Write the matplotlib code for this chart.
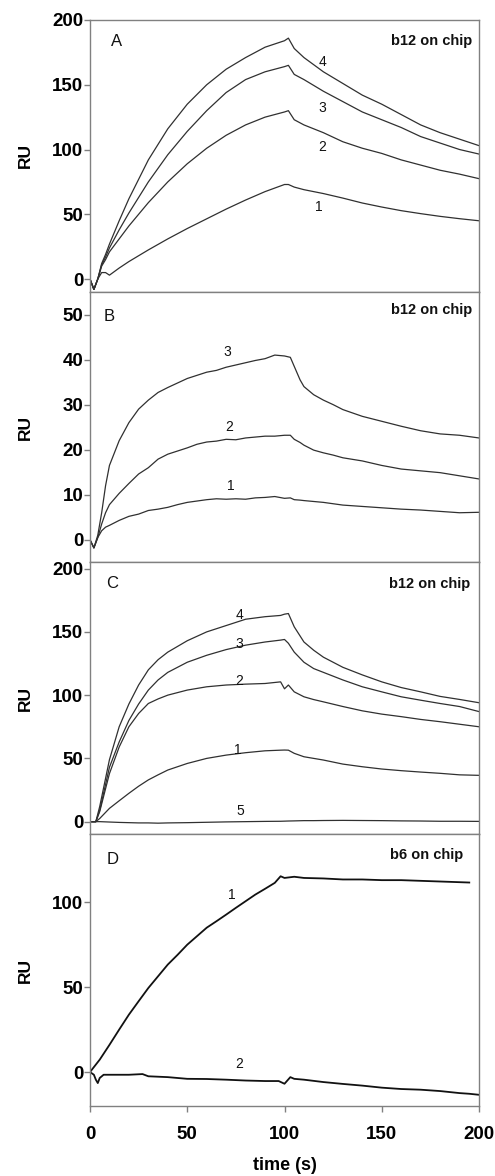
import matplotlib
matplotlib.use("Agg")
import matplotlib.pyplot as plt

plt.rcParams['font.family'] = ['Liberation Sans', 'DejaVu Sans']

# ---------------- data ----------------
A_time = [0, 2, 4, 6, 8, 10, 15, 20, 30, 40, 50, 60, 70, 80, 90, 100, 102, 105, 110,
          120, 130, 140, 150, 160, 170, 180, 190, 200]
A_curve4 = [0, -8, 0, 12, 19, 27, 45, 62, 92, 116, 135, 150, 162, 171, 179, 184, 186, 178, 171,
            160, 151, 142, 135, 127, 119, 113, 108, 103]
A_curve3 = [0, -8, 0, 11, 17, 24, 38, 51, 75, 96, 114, 130, 144, 154, 160, 164, 165, 158, 154,
            145, 137, 129, 123, 117, 110, 105, 100, 96.5]
A_curve2 = [0, -8, 0, 10, 15, 21, 31, 41, 59, 75, 89, 101, 111, 119, 125, 129, 130, 123, 119,
            113, 106, 101, 97, 92, 88, 84, 81, 77.5]
A_curve1 = [0, -8, 0, 5, 5, 3, 8.5, 13.5, 22.5, 31, 39, 46.5, 54, 61, 67.5, 73, 73, 71, 69,
            66, 62.5, 58.7, 55.6, 52.8, 50.5, 48.4, 46.6, 45]

B_time = [0, 2, 4, 6, 8, 10, 15, 20, 25, 30, 35, 40, 45, 50, 55, 60, 65, 70, 75, 80, 85, 90, 95,
          100, 103, 105, 108, 110, 115, 120, 125, 130, 140, 150, 160, 170, 180, 190, 200]
B_curve3 = [0, -1.8, 1, 6, 12, 16.5, 22, 26, 29, 31, 32.7, 33.8, 34.8, 35.8, 36.5, 37.2,
            37.6, 38.3, 38.8, 39.3, 39.8, 40.2, 41, 40.8, 40.5, 38.5, 35.5, 34,
            32.2, 31, 30, 28.9, 27.4, 26.3, 25.2, 24.2, 23.5, 23.2, 22.6]
B_curve2 = [0, -1.8, 0.5, 3.5, 6, 7.8, 10.3, 12.5, 14.6, 16, 17.9, 19, 19.7, 20.4, 21.2, 21.7,
            21.9, 22.3, 22.2, 22.6, 22.8, 23, 23, 23.2, 23.2, 22.3, 21.6, 21,
            19.9, 19.3, 18.8, 18.2, 17.5, 16.5, 15.7, 15.3, 14.9, 14.2, 13.5]
B_curve1 = [0, -1.8, 0.5, 2, 2.8, 3.2, 4.3, 5.2, 5.7, 6.5, 6.8, 7.2, 7.8, 8.3, 8.6, 8.9,
            9.1, 9, 9.1, 9, 9.3, 9.4, 9.6, 9.2, 9.3, 8.9, 8.8, 8.7,
            8.5, 8.3, 8.0, 7.7, 7.4, 7.1, 6.8, 6.6, 6.3, 6.0, 6.1]

C_time = [0, 3, 5, 10, 15, 20, 25, 30, 35, 40, 50, 60, 70, 80, 90, 98, 100, 102, 105, 110,
          115, 120, 130, 140, 150, 160, 170, 180, 190, 200]
C_curve4 = [0, 0, 12, 49, 75, 93, 108, 120, 128, 134, 143, 150, 155, 160, 162, 163, 164, 164.5, 154, 142,
            135.5, 130, 122, 116, 110.5, 106, 102.6, 99, 96.6, 94]
C_curve3 = [0, 0, 9, 43, 63, 80, 93, 104, 112, 118, 126, 131.5, 136, 139.5, 142, 143.5, 144, 141, 134, 126,
            121, 118, 112, 106.6, 102.6, 98.7, 96, 93.4, 91, 87]
C_curve2 = [0, 0, 8, 38, 59, 75, 85.5, 93.4, 97, 100, 104, 106.6, 108, 108.7, 109.2, 110.5, 105, 108, 102.6, 98.7,
            96.5, 94.7, 91, 87.6, 85, 83, 80.8, 79, 77, 75]
C_curve1 = [0, 0, 2.5, 10.5, 16.5, 22.4, 28, 33, 37, 40.8, 46, 50, 52.6, 54.5, 56, 56.5, 56.6, 56.5, 54, 51.3,
            50, 48.7, 45.5, 43.4, 41.6, 40.3, 39.2, 38.2, 37, 36.6]
C_curve5 = [0, 0, 0, -0.3, -0.6, -0.8, -1, -1, -1.2, -1, -0.8, -0.5, -0.2, 0, 0.2, 0.3, 0.4, 0.5, 0.6, 0.8,
            0.8, 0.9, 1, 0.9, 0.8, 0.6, 0.5, 0.3, 0.3, 0.2]

D_time1 = [0, 5, 10, 15, 20, 25, 30, 35, 40, 45, 50, 55, 60, 65, 70, 75, 80, 85, 90, 95, 98, 100,
           105, 110, 120, 130, 140, 150, 160, 170, 180, 190, 195]
D_curve1 = [0, 7.3, 16, 25, 33.8, 41.7, 49.5, 56.4, 63.3, 69, 75, 80, 85, 88.8, 92.7, 96.7, 100.6,
            104.5, 107.9, 111.4, 115.3, 114.3, 115, 114.3, 114, 113.4, 113.4, 113, 113, 112.6,
            112.2, 111.8, 111.6]
D_time2 = [0, 2, 3, 4, 5, 7, 10, 20, 27, 30, 40, 50, 60, 70, 80, 90, 97, 100, 103, 105, 110,
           120, 130, 140, 150, 160, 170, 180, 190, 195, 200]
D_curve2 = [0, -1.6, -4.5, -6.5, -3.5, -1.6, -1.6, -1.6, -1.2, -2.5, -3, -4, -4.1, -4.5, -5, -5.3,
            -5.3, -6.9, -3, -4, -4.5, -5.9, -7, -8, -9.2, -10, -10.4, -11.2, -12.4, -12.8, -13.4]

x_ticks = [0, 50, 100, 150, 200]

# ---------------- figure ----------------
fig = plt.figure(figsize=(4.95, 11.76), dpi=100)
left, width = 90 / 495, 389 / 495
H = 1176.0
rects = [(20, 292), (292, 562.3), (562.3, 834.3), (834.3, 1106)]
axes = []
for top, bot in rects:
    ax = fig.add_axes([left, 1 - bot / H, width, (bot - top) / H])
    axes.append(ax)

spine_c = '#808080'
line_c = '#303030'

panels = [
    dict(ylim=(-10, 200), yticks=[0, 50, 100, 150, 200], letter='A', letter_pos=(13.7, 183.5),
         chip='b12 on chip', chip_pos=(196.7, 183.5),
         curves=[(A_time, A_curve4), (A_time, A_curve3), (A_time, A_curve2), (A_time, A_curve1)],
         labels=[('4', 119.3, 167.7), ('3', 119.6, 132), ('2', 119.6, 102), ('1', 117.4, 55.6)], lw=0.9),
    dict(ylim=(-5, 55), yticks=[0, 10, 20, 30, 40, 50], letter='B', letter_pos=(9.9, 49.5),
         chip='b12 on chip', chip_pos=(196.7, 51),
         curves=[(B_time, B_curve3), (B_time, B_curve2), (B_time, B_curve1)],
         labels=[('3', 70.4, 41.6), ('2', 71.8, 25.0), ('1', 72.3, 12.0)], lw=0.9),
    dict(ylim=(-10, 205), yticks=[0, 50, 100, 150, 200], letter='C', letter_pos=(11.5, 188),
         chip='b12 on chip', chip_pos=(195.4, 188),
         curves=[(C_time, C_curve4), (C_time, C_curve3), (C_time, C_curve2), (C_time, C_curve1),
                 (C_time, C_curve5)],
         labels=[('4', 77.1, 163), ('3', 76.6, 140.8), ('2', 76.6, 111.3), ('1', 75.9, 56.6),
                 ('5', 77.1, 8.7)], lw=0.9),
    dict(ylim=(-20, 140), yticks=[0, 50, 100], letter='D', letter_pos=(11.5, 125.2),
         chip='b6 on chip', chip_pos=(192, 128),
         curves=[(D_time1, D_curve1), (D_time2, D_curve2)],
         labels=[('1', 72.8, 104), ('2', 76.6, 4.8)], lw=1.3),
]

for i, (ax, p) in enumerate(zip(axes, panels)):
    for t, v in p['curves']:
        ax.plot(t, v, color=line_c if i < 3 else '#111111', lw=p['lw'])
    ax.set_xlim(0, 200)
    ax.set_ylim(*p['ylim'])
    ax.set_yticks(p['yticks'])
    ax.set_yticklabels([str(v) for v in p['yticks']], fontsize=13.5, fontweight='bold')
    for s in ax.spines.values():
        s.set_color(spine_c)
        s.set_linewidth(1.0)
    ax.tick_params(axis='y', direction='out', length=4, width=1.0, color=spine_c, pad=0.8)
    if i < 3:
        ax.tick_params(axis='x', bottom=False, labelbottom=False)
    else:
        ax.set_xticks(x_ticks)
        ax.set_xticklabels([str(v) for v in x_ticks], fontsize=13.5, fontweight='bold')
        ax.tick_params(axis='x', direction='out', length=4, width=1.0, color=spine_c, pad=10.5)
        ax.set_xlabel('time (s)', fontsize=13, fontweight='bold', labelpad=10)
    ax.set_ylabel('RU', fontsize=12.5, fontweight='bold')
    ax.yaxis.set_label_coords(-0.147, 0.5)
    ax.text(*p['letter_pos'], p['letter'], fontsize=12, ha='center', va='center', color='#111111')
    ax.text(*p['chip_pos'], p['chip'], fontsize=10.5, fontweight='bold', ha='right', va='center',
            color='#111111')
    for lab, x, y in p['labels']:
        ax.text(x, y, lab, fontsize=10, ha='center', va='center', color='#111111')

fig.savefig('out.png', dpi=100)
